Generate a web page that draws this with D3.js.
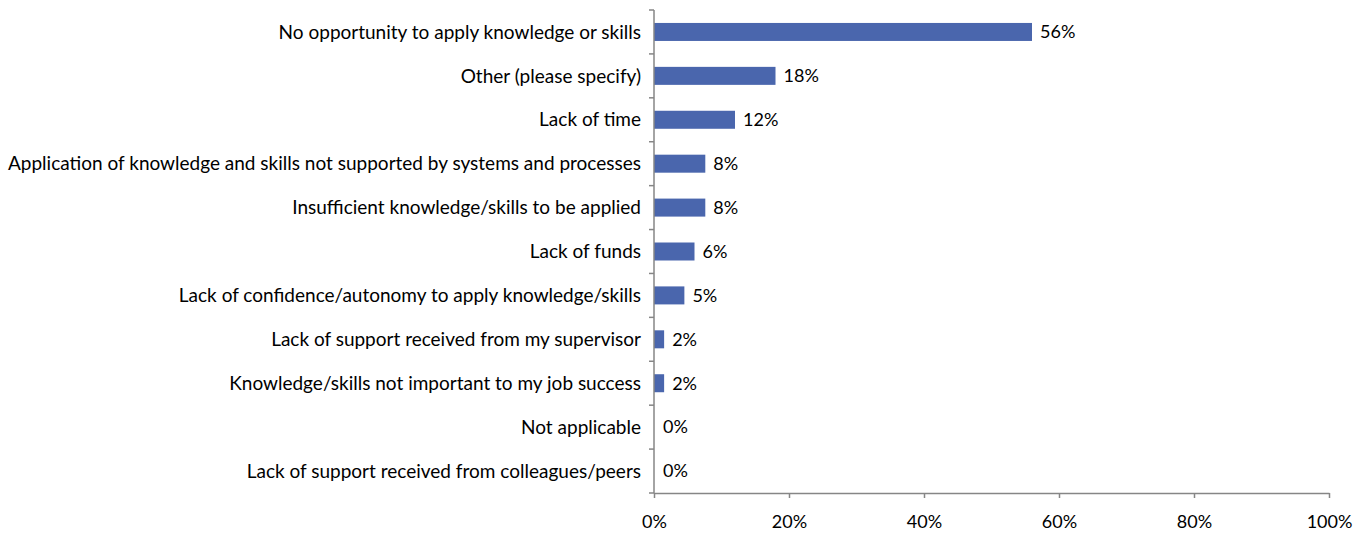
<!DOCTYPE html>
<meta charset="utf-8">
<style>
body { margin: 0; background: #fff; }
text {
  font-family: Lato, "Open Sans", sans-serif;
  font-size: 18px;
  fill: #000;
}
.cat { font-size: 19px; }
.axis path, .axis line { stroke: #868686; stroke-width: 1.5px; }
</style>
<body>
<script src="https://cdn.jsdelivr.net/npm/d3@7"></script>
<script>
// categories top to bottom and their shares
var reasons = [
  "No opportunity to apply knowledge or skills",
  "Other (please specify)",
  "Lack of time",
  "Application of knowledge and skills not supported by systems and processes",
  "Insufficient knowledge/skills to be applied",
  "Lack of funds",
  "Lack of confidence/autonomy to apply knowledge/skills",
  "Lack of support received from my supervisor",
  "Knowledge/skills not important to my job success",
  "Not applicable",
  "Lack of support received from colleagues/peers"
];
var shares = [0.56, 0.18, 0.12, 0.076, 0.076, 0.06, 0.045, 0.015, 0.015, 0, 0];
var shareLabels = ["56%", "18%", "12%", "8%", "8%", "6%", "5%", "2%", "2%", "0%", "0%"];
var xTicks = [0, 0.2, 0.4, 0.6, 0.8, 1];

var width = 1369, height = 534;
var margin = {top: 10, right: 40, bottom: 41, left: 654};

var svg = d3.select("body").append("svg")
    .attr("width", width)
    .attr("height", height);

var x = d3.scaleLinear()
    .domain([0, 1])
    .range([margin.left, 1329]);

var y = d3.scaleBand()
    .domain(reasons)
    .range([margin.top, height - margin.bottom])
    .paddingInner(0.59)
    .paddingOuter(0.295);

// bars
svg.append("g").selectAll("rect")
    .data(reasons)
    .enter().append("rect")
    .attr("x", x(0))
    .attr("y", function(d) { return y(d); })
    .attr("width", function(d, i) { return x(shares[i]) - x(0); })
    .attr("height", y.bandwidth())
    .attr("fill", "#4a66ad");

// value labels
svg.append("g").selectAll("text")
    .data(reasons)
    .enter().append("text")
    .attr("x", function(d, i) { return x(shares[i]) + (shares[i] > 0 ? 8 : 9); })
    .attr("y", function(d) { return y(d) + y.bandwidth() / 2; })
    .attr("dy", "0.35em")
    .text(function(d, i) { return shareLabels[i]; });

// y axis: ticks at band boundaries, labels in the middle
var step = y.step();
var yAxisG = svg.append("g").attr("class", "axis");
yAxisG.append("line")
    .attr("x1", x(0)).attr("x2", x(0))
    .attr("y1", margin.top).attr("y2", height - margin.bottom);
yAxisG.selectAll("line.tick")
    .data(d3.range(reasons.length + 1))
    .enter().append("line")
    .attr("class", "tick")
    .attr("x1", x(0) - 5).attr("x2", x(0))
    .attr("y1", function(i) { return margin.top + i * step; })
    .attr("y2", function(i) { return margin.top + i * step; });
yAxisG.selectAll("text")
    .data(reasons)
    .enter().append("text")
    .attr("class", "cat")
    .attr("x", 641)
    .attr("y", function(d) { return y(d) + y.bandwidth() / 2; })
    .attr("dy", "0.35em")
    .attr("text-anchor", "end")
    .text(function(d) { return d; });

// x axis
var xAxis = d3.axisBottom(x)
    .tickValues(xTicks)
    .tickFormat(d3.format(".0%"))
    .tickSize(5)
    .tickSizeOuter(0)
    .tickPadding(17);

svg.append("g")
    .attr("class", "axis")
    .attr("transform", "translate(0," + (height - margin.bottom) + ")")
    .call(xAxis)
    .call(function(g) { g.attr("font-family", null).attr("font-size", null); g.selectAll("text").attr("fill", "#000"); });
</script>
</body>
